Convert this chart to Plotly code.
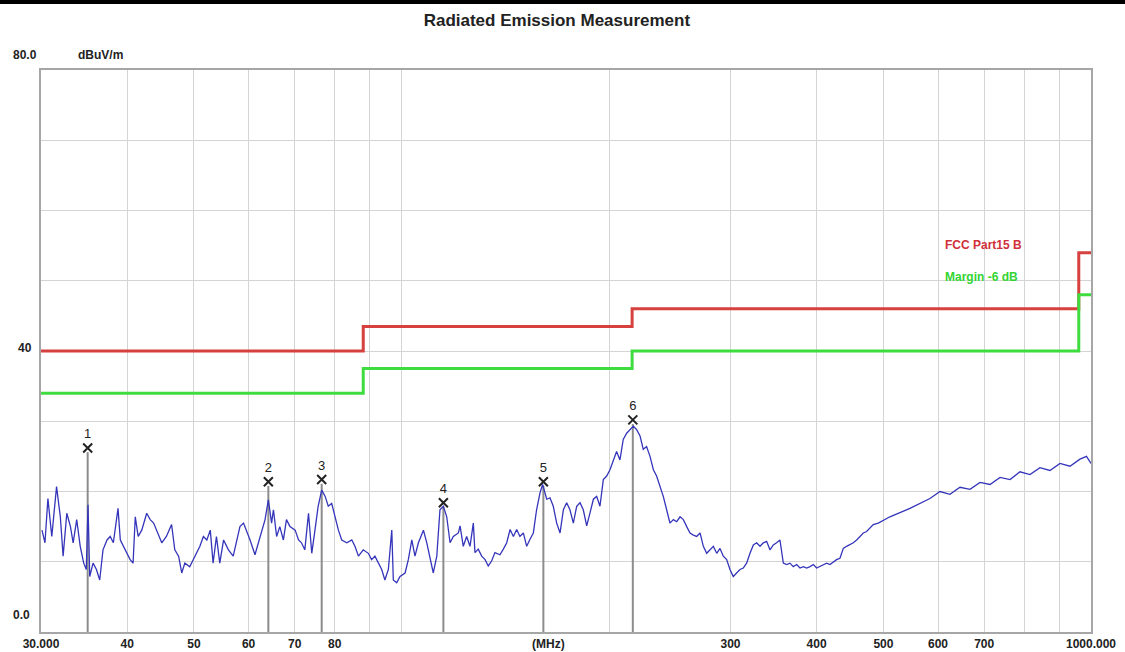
import numpy as np
import plotly.graph_objects as go

freq = [30.1, 30.4, 30.7, 31.1, 31.6, 32.0, 32.3, 32.7, 33.1, 33.4,
        33.8, 34.2, 34.6, 34.9, 35.1, 35.3, 35.7, 36.1, 36.5, 36.9,
        37.4, 37.8, 38.2, 38.8, 39.1, 39.5, 39.9, 40.4, 40.8, 41.1,
        41.5, 42.0, 42.7, 43.2, 43.7, 44.1, 44.9, 45.6, 46.4, 46.9,
        47.5, 48.0, 48.5, 49.3, 50.2, 51.0, 51.6, 52.2, 52.8, 53.3,
        53.9, 54.5, 55.2, 56.1, 57.0,
        58.3, 59.0, 59.6, 60.3, 61.3, 62.0, 62.7, 63.4, 64.1, 64.8,
        65.2, 65.9, 66.6, 67.4, 68.1, 68.9, 70.1, 70.9, 71.6, 72.4,
        73.3, 74.1, 74.9, 75.7, 76.6, 77.5, 78.3, 79.2, 80.1, 81.0,
        81.9, 83.3, 84.7, 85.6, 86.6, 88.0, 89.5, 90.5, 91.5, 92.6,
        93.6, 94.6, 95.7, 96.8, 97.3, 98.4, 99.5, 101.2, 102.3, 103.5,
        104.6, 105.8, 107.6, 108.8, 110.0, 111.2, 112.5, 113.7, 115.0, 116.3,
        117.6, 118.9, 120.9,
        121.6, 122.9, 124.3, 125.7, 127.1, 127.8, 129.2, 130.7, 132.2, 133.6,
        135.1, 136.6, 138.9, 140.5, 142.1, 143.7, 145.3, 146.9, 148.5, 150.2,
        151.9, 153.6, 155.3, 157.0, 158.8, 160.2, 162.4, 164.2, 166.0, 167.9,
        169.8, 171.7, 173.6, 175.5, 177.5, 179.5, 181.5, 183.5, 185.6, 187.7,
        189.8, 191.9, 194.0, 196.2, 198.4, 200.6, 202.9, 205.1, 207.4, 209.7,
        212.1, 214.5, 216.9, 219.3, 221.8, 224.2, 226.7, 229.3, 231.9, 234.4,
        237.1, 239.7,
        242.4, 245.1, 247.9, 250.7, 253.5, 256.3, 259.2, 262.1, 265.0, 268.0,
        271.0, 274.0, 277.1, 280.1, 283.3, 286.5, 289.7, 292.9, 296.2, 299.5,
        302.8, 306.2, 309.7, 313.1, 316.6, 320.2, 323.8, 327.4, 331.1, 334.8,
        338.5, 342.3, 346.1, 350.0, 353.9, 357.9, 361.9, 365.9, 370.0, 374.2,
        378.4, 382.6, 386.9, 391.2, 395.6, 400.0, 404.5, 409.0, 413.6, 418.2,
        422.9, 427.6, 432.4, 437.3, 442.1, 447.1, 452.1, 457.2, 462.3, 467.5,
        472.7, 478.0, 483.3, 491.5,
        510.9, 546.3, 584.0, 603.9, 624.4, 645.6, 667.6, 690.3, 713.7, 738.0,
        763.0, 788.8, 815.6, 843.3, 871.9, 901.6, 932.2, 963.8, 985.0, 1000.0]

level = [14.5, 12.7, 19.0, 13.6, 20.7, 16.4, 10.8, 16.9, 15.0, 12.7,
         16.0, 12.2, 9.8, 8.9, 18.1, 7.9, 9.8, 8.9, 7.4, 11.7,
         13.1, 13.6, 12.7, 17.6, 13.1, 12.2, 11.2, 10.3, 9.8, 16.4,
         13.6, 14.5, 16.9, 16.0, 15.5, 14.5, 12.7, 13.6, 15.3, 11.7,
         10.8, 8.4, 9.8, 9.3, 10.8, 12.2, 13.6, 13.1, 14.5, 9.8,
         13.6, 9.8, 13.1, 11.7, 10.8,
         15.0, 15.5, 14.5, 13.1, 11.0, 12.7, 14.5, 16.0, 18.8, 15.5,
         17.4, 13.6, 15.0, 13.1, 16.0, 15.0, 14.5, 13.1, 12.7, 11.7,
         16.9, 11.2, 14.5, 17.9, 20.2, 19.3, 17.9, 18.3, 16.4, 14.5,
         13.1, 12.7, 13.1, 12.2, 10.8, 11.7, 11.2, 10.3, 10.8, 9.8,
         8.9, 7.4, 8.9, 14.5, 7.4, 7.0, 7.9, 8.4, 10.3, 13.1,
         10.8, 12.7, 14.5, 12.7, 10.3, 8.4, 10.8, 17.4, 17.9, 16.4,
         12.7, 13.6, 14.1,
         15.1, 12.2, 13.6, 12.2, 15.5, 11.3, 11.8, 10.8, 10.3, 9.4,
         10.1, 11.3, 11.0, 11.8, 12.7, 14.6, 13.6, 14.6, 13.6, 14.1,
         12.2, 13.2, 14.1, 17.4, 19.8, 21.0, 18.9, 19.1, 17.9, 15.5,
         14.1, 17.4, 18.4, 17.4, 15.5, 17.9, 18.4, 17.4, 15.1, 17.0,
         18.9, 19.3, 17.9, 21.7, 22.2, 23.1, 24.5, 25.7, 24.5, 27.4,
         28.3, 28.8, 29.3, 28.8, 27.9, 26.0, 26.4, 25.0, 23.1, 22.2,
         20.8, 19.3,
         17.4, 15.5, 16.0, 15.7, 16.4, 16.0, 15.0, 14.1, 13.8, 13.6,
         14.1, 12.2, 11.2, 11.7, 12.2, 11.2, 11.9, 10.8, 10.3, 8.9,
         7.9, 8.4, 8.9, 9.1, 9.8, 11.2, 12.4, 12.7, 12.2, 12.7,
         12.9, 11.7, 12.4, 12.7, 13.1, 9.8, 9.6, 9.8, 9.3, 9.6,
         9.1, 9.3, 9.1, 9.3, 9.6, 9.1, 9.3, 9.6, 9.8, 9.6,
         10.0, 10.3, 10.5, 11.9, 12.2, 12.4, 12.7, 13.1, 13.6, 14.1,
         14.3, 14.8, 15.3, 15.5,
         16.4, 17.6, 19.0, 20.0, 19.6, 20.6, 20.3, 21.3, 21.0, 22.0,
         21.7, 22.8, 22.4, 23.4, 23.0, 24.0, 23.6, 24.6, 25.0, 24.0]

# FCC Part 15 B limit and -6 dB margin (step at each freq)
limit_freq = [30, 88, 216, 960, 1000]
fcc_limit = [40, 43.5, 46, 54, 54]
margin_limit = [34, 37.5, 40, 48, 48]

# peak markers
mk_no = ["1", "2", "3", "4", "5", "6"]
mk_freq = [35.06, 64.1, 76.6, 115.0, 160.6, 216.5]
mk_level = [26.2, 21.4, 21.7, 18.4, 21.4, 30.2]

x_tickvals = [30, 40, 50, 60, 70, 80, 90, 100, 200, 300, 400, 500, 600, 700, 800, 900, 1000]
x_ticktext = ["30.000", "40", "50", "60", "70", "80", "", "", "", "300", "400", "500", "600", "700", "", "", "1000.000"]

FONT = "Liberation Sans, Arial, sans-serif"

fig = go.Figure()

# marker stems
stem_x, stem_y = [], []
for f, l in zip(mk_freq, mk_level):
    stem_x += [f, f, None]
    stem_y += [0, l - 0.6, None]
fig.add_trace(go.Scatter(x=stem_x, y=stem_y, mode="lines",
                         line=dict(color="#8c8c8c", width=2), hoverinfo="skip"))

fig.add_trace(go.Scatter(x=limit_freq, y=fcc_limit, mode="lines", line_shape="hv",
                         line=dict(color="#d6403f", width=3)))
fig.add_trace(go.Scatter(x=limit_freq, y=margin_limit, mode="lines", line_shape="hv",
                         line=dict(color="#3fdc3f", width=3)))

fig.add_trace(go.Scatter(x=freq, y=level, mode="lines",
                         line=dict(color="#3535bb", width=1.3)))

fig.add_trace(go.Scatter(x=mk_freq, y=mk_level, mode="markers+text", text=mk_no,
                         textposition="top center",
                         textfont=dict(family=FONT, size=13, color="#222"),
                         marker=dict(symbol="x-thin-open", size=9, color="#222",
                                     line=dict(color="#222", width=2))))

fig.update_xaxes(type="log", range=[np.log10(30), np.log10(1000)],
                 tickvals=x_tickvals, ticktext=x_ticktext, ticks="",
                 tickfont=dict(family=FONT, size=12, color="#222", weight="bold"),
                 showgrid=True, gridcolor="#d4d4d4", gridwidth=1,
                 showline=True, linecolor="#a6a6a6", linewidth=2, mirror=True,
                 zeroline=False)
fig.update_yaxes(range=[0, 80], tickvals=list(range(0, 81, 10)), showticklabels=False,
                 ticks="", showgrid=True, gridcolor="#d4d4d4", gridwidth=1,
                 showline=True, linecolor="#a6a6a6", linewidth=2, mirror=True,
                 zeroline=False)

ann_font = dict(family=FONT, size=12, color="#222", weight="bold")
annots = [
    ("80.0", -0.0152, 1.0267),
    ("dBuV/m", 0.0571, 1.0267),
    ("40", -0.0152, 0.5053),
    ("0.0", -0.0181, 0.0302),
    ("(MHz)", 0.483, -0.0215),
]
for txt, ax, ay in annots:
    fig.add_annotation(text=txt, x=ax, y=ay, xref="paper", yref="paper",
                       xanchor="center", yanchor="middle",
                       showarrow=False, font=ann_font)

fig.add_annotation(text="FCC Part15 B", x=0.859, y=0.7046, xref="paper", yref="paper",
                   xanchor="left", showarrow=False,
                   font=dict(family=FONT, size=12, color="#d0303a", weight="bold"))
fig.add_annotation(text="Margin -6 dB", x=0.859, y=0.6317, xref="paper", yref="paper",
                   xanchor="left", showarrow=False,
                   font=dict(family=FONT, size=12, color="#33d433", weight="bold"))

# black rule at the very top of the image
fig.add_shape(type="line", xref="paper", yref="paper", x0=-0.05, x1=1.05,
              y0=1.121, y1=1.121, line=dict(color="black", width=4))

fig.update_layout(
    width=1125, height=652,
    margin=dict(l=41, r=34, t=70, b=20, autoexpand=False),
    paper_bgcolor="white", plot_bgcolor="white",
    showlegend=False,
    title=dict(text="Radiated Emission Measurement", x=0.495, xanchor="center",
               y=1 - 20 / 652, yref="container", yanchor="middle",
               font=dict(family=FONT, size=17, color="#222", weight="bold")),
)

# drop the default 8px page margin so the figure fills the window
fig.write_html("out.html", config={"displayModeBar": False},
               post_script="document.body.style.margin='0';document.body.style.overflow='hidden';")
